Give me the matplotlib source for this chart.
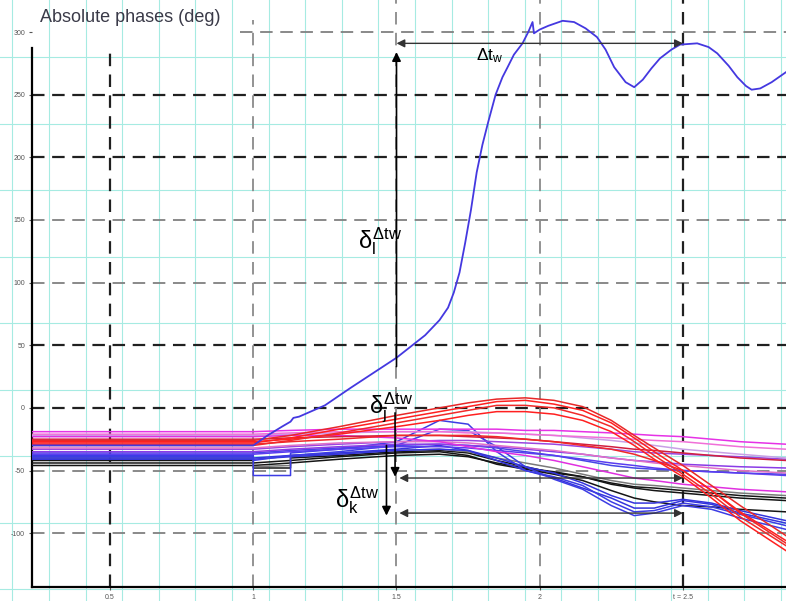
import numpy as np
import matplotlib
matplotlib.use('Agg')
import matplotlib.pyplot as plt

plt.rcParams['font.family'] = ['Liberation Sans', 'DejaVu Sans']
plt.rcParams['mathtext.fontset'] = 'custom'
plt.rcParams['mathtext.rm'] = 'Liberation Sans'
plt.rcParams['mathtext.it'] = 'Liberation Sans'
plt.rcParams['lines.scale_dashes'] = False

# shared time base of the machine bundle (s), steps at 1.0 and 1.13
t = [0.23, 1.0, 1.0, 1.13, 1.13, 1.3, 1.5, 1.65, 1.75, 1.85, 1.95,
     2.05, 2.15, 2.25, 2.33, 2.4, 2.5, 2.6, 2.7, 2.86]

# absolute phases (deg)
mag_1 = [-19, -19, -19, -18, -18, -17, -17, -17, -17, -17, -18, -18, -19, -20, -21, -22, -23, -25, -27, -29]
mag_2 = [-21, -21, -21, -20, -20, -19, -19, -19, -20, -20, -21, -22, -23, -24, -25, -26, -27, -29, -31, -33]
mag_3 = [-23, -23, -23, -22, -22, -22, -24, -27, -31, -35, -38, -42, -47, -52, -56, -58, -61, -63, -65, -67]
lav_1 = [-22, -22, -22, -21, -21, -20, -19, -19, -19, -20, -21, -22, -24, -26, -28, -30, -33, -35, -37, -40]
pink_1 = [-32, -32, -32, -30, -30, -28, -27, -27, -28, -30, -32, -34, -37, -40, -42, -44, -46, -48, -50, -52]

red_1 = [-26, -26, -26, -22, -22, -15, -6, 0, 4, 7, 8, 6, 1, -10, -22, -32, -46, -62, -78, -102]
red_2 = [-28, -28, -28, -24, -24, -17, -9, -3, 1, 5, 6, 3, -2, -12, -24, -35, -50, -66, -83, -106]
red_3 = [-30, -30, -30, -26, -26, -20, -12, -6, -2, 2, 2, 0, -6, -15, -27, -38, -53, -69, -87, -110]
red_4 = [-27, -27, -27, -25, -25, -21, -15, -10, -6, -3, -3, -5, -10, -19, -30, -41, -55, -72, -90, -114]
red_5 = [-29, -29, -29, -27, -27, -25, -22, -22, -22, -23, -25, -27, -30, -33, -37, -42, -50, -66, -84, -108]
red_6 = [-25, -25, -25, -24, -24, -23, -22, -22, -23, -24, -25, -27, -29, -31, -33, -34, -36, -38, -40, -42]

pur_1 = [-33, -33, -33, -31, -31, -29, -27, -26, -26, -27, -28, -29, -31, -33, -35, -36, -37, -38, -39, -41]
pur_2 = [-35, -35, -35, -33, -33, -31, -29, -29, -30, -31, -33, -35, -37, -40, -42, -43, -45, -46, -47, -48]
pur_3 = [-37, -37, -37, -35, -35, -33, -31, -31, -32, -34, -36, -38, -41, -44, -46, -48, -50, -51, -52, -54]

blue_1 = [-38, -38, -54, -54, -36, -33, -27, -10, -13, -35, -50, -55, -62, -75, -83, -82, -76, -79, -85, -94]
blue_2 = [-39, -39, -42, -38, -38, -35, -30, -17, -18, -31, -47, -57, -65, -78, -86, -84, -78, -81, -88, -97]
blue_3 = [-40, -40, -40, -38, -38, -36, -33, -30, -34, -42, -50, -56, -64, -72, -80, -80, -74, -77, -84, -92]
blue_4 = [-41, -41, -41, -39, -39, -37, -34, -33, -34, -40, -47, -52, -60, -70, -76, -76, -73, -76, -82, -90]
blue_5 = [-36, -36, -36, -34, -34, -32, -30, -29, -30, -32, -35, -38, -42, -46, -48, -49, -50, -51, -52, -53]

blk_1 = [-42, -42, -48, -48, -40, -38, -35, -34, -36, -42, -47, -52, -55, -60, -63, -64, -66, -68, -70, -72]
blk_2 = [-44, -44, -44, -42, -42, -39, -36, -35, -38, -45, -49, -53, -58, -66, -72, -75, -78, -79, -81, -83]
blk_3 = [-46, -46, -46, -44, -44, -41, -38, -37, -39, -44, -48, -51, -55, -61, -64, -66, -68, -70, -72, -74]
gry_1 = [-40, -40, -47, -46, -38, -36, -34, -33, -35, -40, -44, -48, -53, -58, -61, -62, -64, -66, -68, -70]

# machine that loses synchronism
t_lost = [0.23, 1.0, 1.05, 1.1, 1.13, 1.14, 1.16, 1.25, 1.34, 1.42, 1.5, 1.55, 1.6, 1.65,
          1.68, 1.7, 1.72, 1.74, 1.76, 1.78, 1.8, 1.82, 1.846, 1.87, 1.888, 1.91, 1.94,
          1.96, 1.975, 1.98, 2.0, 2.03, 2.08, 2.12, 2.16, 2.2, 2.23, 2.26, 2.3, 2.33,
          2.36, 2.39, 2.42, 2.46, 2.49, 2.55, 2.59, 2.62, 2.66, 2.69, 2.72, 2.74,
          2.77, 2.81, 2.86]
phase_lost = [-30, -30, -22, -15, -11, -8, -7, 2, 16, 28, 40, 49, 58, 70,
              80, 92, 108, 132, 158, 188, 210, 228, 250, 264, 272, 282, 291,
              300, 308, 299, 302, 305, 309, 308, 303, 296, 286, 272, 260, 256,
              262, 271, 279, 286, 290, 291, 288, 283, 273, 264, 257, 254,
              255, 260, 268]

# annotation values
t_w0, t_w1 = 1.5, 2.5
dt_level = 291
delta_l = (33, 284)
delta_j = (-4, -55)
delta_k = (-30, -86)
level_j, level_k = -56, -84

yticks = [-100, -50, 0, 50, 100, 150, 200, 250, 300]
xticks = [0.5, 1, 1.5, 2, 2.5]
xlabels = ['0.5', '1', '1.5', '2', 't = 2.5']

curves = [
    (blk_3, '#151515'), (blk_2, '#151515'), (blk_1, '#151515'), (gry_1, '#7a7a7a'),
    (blue_4, '#3434dc'), (blue_3, '#3434dc'), (blue_2, '#3c3ce4'), (blue_1, '#3c3ce4'),
    (blue_5, '#4646e6'),
    (pur_3, '#5a3cf0'), (pur_2, '#8a3ce6'), (pur_1, '#9a46e0'), (pink_1, '#e070c8'),
    (lav_1, '#c8a0e6'), (mag_3, '#e030e0'), (mag_2, '#f070d8'), (mag_1, '#e632e6'),
    (red_6, '#d01e40'), (red_5, '#f02828'), (red_4, '#ff2020'), (red_3, '#f02a2a'),
    (red_2, '#ff2020'), (red_1, '#e82828'),
]

W, H = 786, 601
fig = plt.figure(figsize=(W / 100, H / 100), dpi=100)

# graph-paper background
bg = fig.add_axes([0, 0, 1, 1], zorder=0)
bg.set_xlim(0, W)
bg.set_ylim(H, 0)
bg.axis('off')
for xp in np.arange(12.4, W, 36.6):
    bg.axvline(xp, color='#a6ebe2', lw=0.8)
for yp in np.arange(-9.5, H, 66.5):
    bg.axhline(yp, color='#a6ebe2', lw=0.8)

ax = fig.add_axes([32 / W, 14 / H, 754 / W, 587 / H], zorder=1)
ax.patch.set_alpha(0)
ax.set_xlim(0.2273, 2.86)
ax.set_ylim(-143, 325.6)

for yv in yticks:
    dark = yv in (0, 50, 200, 250)
    x0 = 0.276 if yv == 300 else 0
    ax.axhline(yv, xmin=x0, color='#202020' if dark else '#808080',
               lw=1.6 if dark else 1.3, dashes=(9, 5.5), zorder=1)
vtop = {0.5: 0.909, 1: 0.966}
for xv in xticks:
    dark = xv in (0.5, 2.5)
    ax.axvline(xv, ymax=vtop.get(xv, 1), color='#202020' if dark else '#8a8a8a',
               lw=1.6 if dark else 1.3, dashes=(9, 6), zorder=1)

for ys, c in curves:
    ax.plot(t, ys, color=c, lw=1.1, zorder=3)
ax.plot(t_lost, phase_lost, color='#4438e0', lw=1.3, zorder=4)

# arrows
head = dict(arrowstyle='-|>', color='black', lw=1.2, mutation_scale=13, shrinkA=0, shrinkB=0)
both = dict(arrowstyle='<|-|>', color='#333333', lw=1.0, mutation_scale=12, shrinkA=0, shrinkB=0)
ax.annotate('', xy=(t_w0, delta_l[1]), xytext=(t_w0, delta_l[0]), arrowprops=head, zorder=5)
ax.annotate('', xy=(t_w0 - 0.005, delta_j[1]), xytext=(t_w0 - 0.005, delta_j[0]), arrowprops=head, zorder=5)
ax.annotate('', xy=(1.465, delta_k[1]), xytext=(1.465, delta_k[0]), arrowprops=head, zorder=5)
ax.annotate('', xy=(t_w1, dt_level), xytext=(t_w0, dt_level), arrowprops=both, zorder=5)
ax.annotate('', xy=(t_w1, level_j), xytext=(t_w0 + 0.01, level_j), arrowprops=both, zorder=5)
ax.annotate('', xy=(t_w1, level_k), xytext=(t_w0 + 0.01, level_k), arrowprops=both, zorder=5)

ax.text(1.776, 281, r'$\Delta t_w$', fontsize=12.5, va='center', ha='left', zorder=6)
ax.text(1.365, 133, r'$\delta_l^{\Delta tw}$', fontsize=17, va='center', ha='left', zorder=6)
ax.text(1.405, 0, r'$\delta_j^{\Delta tw}$', fontsize=17, va='center', ha='left', zorder=6)
ax.text(1.285, -74, r'$\delta_k^{\Delta tw}$', fontsize=17, va='center', ha='left', zorder=6)

ax.set_yticks(yticks)
ax.set_yticklabels([str(v) for v in yticks])
ax.set_xticks(xticks)
ax.set_xticklabels(xlabels)
ax.tick_params(labelsize=5, colors='#555555', length=2, pad=3)
ax.spines['top'].set_visible(False)
ax.spines['right'].set_visible(False)
ax.spines['left'].set_bounds(-143, 287)
ax.spines['left'].set_linewidth(1.6)
ax.spines['bottom'].set_linewidth(1.6)

fig.text(40 / W, 1 - 17 / H, 'Absolute phases (deg)', fontsize=13, va='center',
         ha='left', color='#3a3a48')

fig.savefig('out.png', dpi=100)
